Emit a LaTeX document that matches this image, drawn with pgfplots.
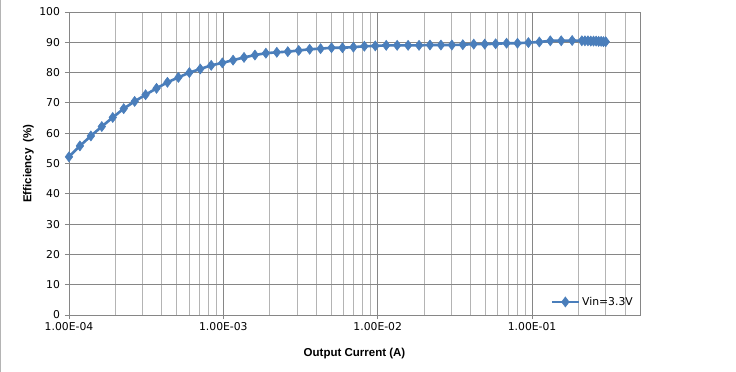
\documentclass[border=0pt]{standalone}
\usepackage{pgfplots}
\pgfplotsset{compat=1.18}
\usepackage{fontspec}
\setmainfont{DejaVu Sans}
\newfontfamily\labfont{Liberation Sans}
\definecolor{ser}{HTML}{4A7EBB}
\definecolor{majg}{HTML}{868686}
\definecolor{ming}{HTML}{B4B4B4}
\begin{document}
\begin{tikzpicture}[x=1pt,y=1pt]
\path[use as bounding box] (0,0) rectangle (736,372);
\draw[color=ming, line width=1.2pt] (0.6,0)--(0.6,372);
\begin{axis}[
  at={(69pt,57pt)}, anchor=south west,
  width=571pt, height=303pt, scale only axis,
  xmode=log, xmin=1e-4, xmax=0.5, ymin=0, ymax=100,
  ytick={0,10,...,100},
  /pgf/number format/assume math mode=true,
  xtick={1e-4,1e-3,1e-2,1e-1},
  xticklabels={1.00E-04,1.00E-03,1.00E-02,1.00E-01},
  minor xtick={2e-4,3e-4,4e-4,5e-4,6e-4,7e-4,8e-4,9e-4,
               2e-3,3e-3,4e-3,5e-3,6e-3,7e-3,8e-3,9e-3,
               2e-2,3e-2,4e-2,5e-2,6e-2,7e-2,8e-2,9e-2,
               2e-1,3e-1,4e-1},
  grid=both,
  major grid style={majg, line width=0.9pt},
  minor grid style={ming, line width=0.9pt},
  axis line style={majg, line width=0.9pt},
  tick style={majg, line width=0.9pt},
  major tick length=4pt, minor tick length=0pt,
  tick align=outside, tick pos=left,
  ticklabel style={font=\fontsize{10.8}{12}\selectfont, text=black},
  yticklabel style={xshift=-1.5pt},
  xticklabel style={yshift=0.5pt},
  xlabel={Output Current (A)},
  ylabel={Efficiency~ (\%)},
  label style={font=\labfont\bfseries\fontsize{11.5}{13}\selectfont},
  xlabel style={at={(axis description cs:0.5,-0.1264)}, anchor=center},
  ylabel style={at={(axis description cs:-0.071,0.5)}, anchor=center},
  legend style={at={(1,0)}, anchor=south east, draw=none, fill=none,
    font=\fontsize{10.8}{12}\selectfont, xshift=-2pt, yshift=4pt},
  legend image code/.code={\draw[mark repeat=2, mark phase=2, #1]
    plot coordinates {(0pt,0pt)(13.5pt,0pt)(27pt,0pt)};},
]
\addplot[color=ser, line width=2.6pt, mark=diamond*, mark size=5pt,
  mark options={solid, fill=ser, draw=ser, line width=0.6pt}]
coordinates {
(1.000e-4,52.2)(1.177e-4,55.8)(1.386e-4,59.1)(1.632e-4,62.2)(1.921e-4,65.2)
(2.262e-4,68.1)(2.663e-4,70.5)(3.135e-4,72.7)(3.690e-4,74.8)(4.344e-4,76.8)
(5.114e-4,78.4)(6.021e-4,80.0)(7.088e-4,81.2)(8.345e-4,82.4)(9.850e-4,83.2)
(1.156e-3,84.1)(1.361e-3,85.0)(1.602e-3,85.8)(1.886e-3,86.4)(2.220e-3,86.7)
(2.614e-3,86.9)(3.077e-3,87.3)(3.623e-3,87.7)(4.265e-3,87.9)(5.021e-3,88.2)
(5.911e-3,88.2)(6.959e-3,88.4)(8.193e-3,88.7)(9.640e-3,88.8)(1.135e-2,89.0)
(1.336e-2,89.0)(1.573e-2,89.0)(1.852e-2,89.0)(2.180e-2,89.1)(2.567e-2,89.1)
(3.022e-2,89.1)(3.557e-2,89.2)(4.188e-2,89.4)(4.930e-2,89.4)(5.804e-2,89.5)
(6.833e-2,89.7)(8.044e-2,89.7)(9.465e-2,89.9)(0.1114,90.1)(0.1312,90.5)
(0.1544,90.5)(0.1818,90.6)
(0.21,90.5)(0.22,90.5)(0.23,90.5)(0.24,90.4)(0.25,90.4)(0.26,90.4)
(0.27,90.3)(0.28,90.3)(0.29,90.2)(0.30,90.2)
};
\addlegendentry{Vin=3.3V}
\end{axis}
\end{tikzpicture}
\end{document}
